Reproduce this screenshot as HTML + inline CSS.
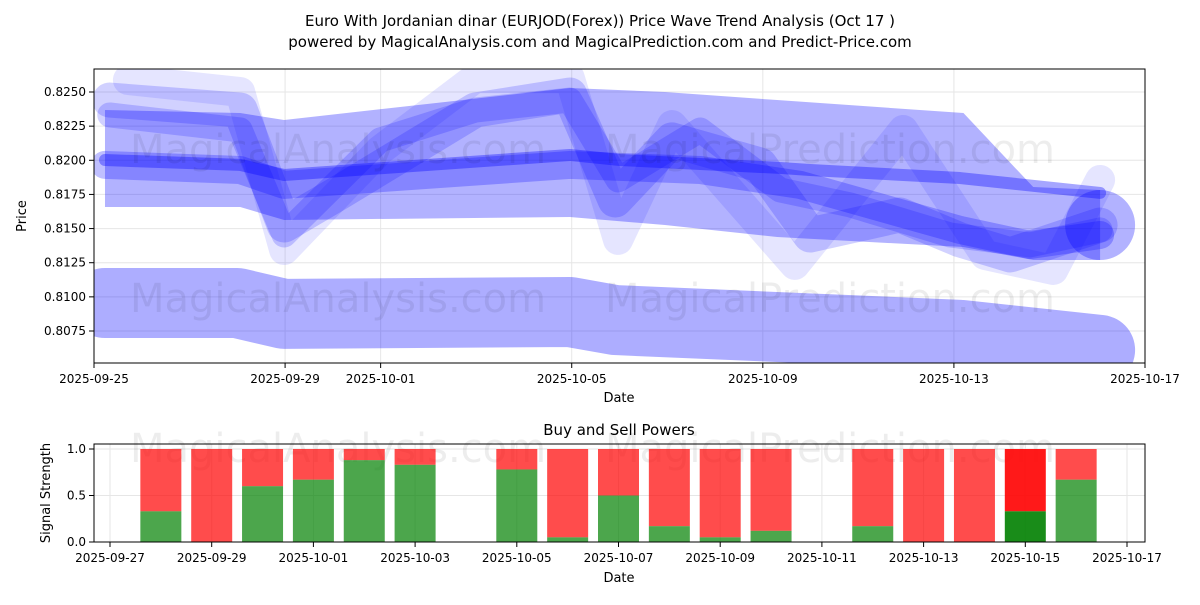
<!DOCTYPE html>
<html><head><meta charset="utf-8"><style>
body{margin:0;background:#fff;font-family:"Liberation Sans","DejaVu Sans",sans-serif}
</style></head><body>
<svg id="c" width="1200" height="600" xmlns="http://www.w3.org/2000/svg" font-family="DejaVu Sans, Liberation Sans, sans-serif">
<text x="600" y="26" text-anchor="middle" font-size="15">Euro With Jordanian dinar (EURJOD(Forex)) Price Wave Trend Analysis (Oct 17 )</text>
<text x="600" y="47" text-anchor="middle" font-size="15">powered by MagicalAnalysis.com and MagicalPrediction.com and Predict-Price.com</text>
<g id="topg"></g><g id="botg"></g>
</svg>
<script>
const NS="http://www.w3.org/2000/svg";
// ---- top chart data (days since 2025-09-25) ----
const bandDays=[0.23,3.06,3.98,9.96,11.95,14.3,18.2,19.66,21.06];
const bandUpper=[0.82368,0.82346,0.82295,0.82529,0.8250,0.82441,0.82346,0.81804,0.81782];
const bandLower=[0.81658,0.81658,0.81563,0.81585,0.81526,0.81438,0.81365,0.8127,0.8127];
const zigADays=[0.71,3.06,3.98,5.99,7.98,9.96,10.97,12.1,14.67,16.94,18.65,20.08,21.06];
const zigAVals=[0.82588,0.8250,0.81343,0.82075,0.82602,0.82602,0.81417,0.82258,0.81234,0.82222,0.81307,0.81197,0.81856];
const zigBDays=[0.33,3.06,3.98,5.05,7.98,9.96,10.91,12.1,13.94,14.99,16.87,18.13,19.18,21.06];
const zigBVals=[0.82441,0.82368,0.81526,0.81746,0.82368,0.82478,0.81709,0.82149,0.81966,0.81453,0.816,0.81417,0.81307,0.81526];
const zigCDays=[0.33,3.06,3.98,5.99,7.98,9.96,10.97,12.69,14.36,15.83,17.92,19.59,21.06];
const zigCVals=[0.82332,0.82222,0.81453,0.82149,0.82368,0.82441,0.81856,0.82222,0.81783,0.81673,0.81453,0.8138,0.8149];
const core2Days=[0.23,3.06,3.98,9.96,12.69,14.78,18.13,19.59,21.06];
const core2Vals=[0.81966,0.81929,0.8182,0.81966,0.81929,0.8182,0.8149,0.8138,0.81453];
const coreDays=[0.23,3.06,3.98,9.96,11.01,14.36,14.99,18.13,21.06];
const coreVals=[0.82002,0.81966,0.81892,0.82039,0.82002,0.81944,0.81929,0.8187,0.81761];
const lowDays=[0.23,3.0,3.98,9.96,10.91,18.13,21.06];
const lowVals=[0.80955,0.80955,0.80875,0.80889,0.8083,0.80722,0.80611];
const endVal=0.81526, endDay=21.06;
const topYTicks=[0.8075,0.8100,0.8125,0.8150,0.8175,0.8200,0.8225,0.8250];
const topXTicks=["2025-09-25","2025-09-29","2025-10-01","2025-10-05","2025-10-09","2025-10-13","2025-10-17"];
const topXTickDays=[0,4,6,10,14,18,22];
// ---- bottom chart data (days since 2025-09-27) ----
const barDays=[1,2,3,4,5,6,8,9,10,11,12,13,15,16,17,18,19];
const buyVals=[0.33,0,0.6,0.67,0.88,0.83,0.78,0.05,0.5,0.17,0.05,0.12,0.17,0,0,0.33,0.67];
const botXTicks=["2025-09-27","2025-09-29","2025-10-01","2025-10-03","2025-10-05","2025-10-07","2025-10-09","2025-10-11","2025-10-13","2025-10-15","2025-10-17"];
const botYTicks=[0,0.5,1.0];

function el(p,t,a,txt){const e=document.createElementNS(NS,t);for(const k in a)e.setAttribute(k,a[k]);if(txt!==undefined)e.textContent=txt;p.appendChild(e);return e;}
const topG=document.getElementById('topg'),botG=document.getElementById('botg');
const tx=d=>94+d*(1051/22), ty=v=>92+(0.8250-v)*13657;
const bx=d=>110+d*50.85, by=v=>542-v*93;

topYTicks.forEach(v=>{el(topG,'line',{x1:94,x2:1145,y1:ty(v),y2:ty(v),stroke:'#e6e6e6'});
 el(topG,'line',{x1:89,x2:94,y1:ty(v),y2:ty(v),stroke:'#000'});
 const t=el(topG,'text',{x:86,y:ty(v)+4,'text-anchor':'end','font-size':12},v.toFixed(4));
 });
topXTicks.forEach((s,i)=>{const x=tx(topXTickDays[i]);el(topG,'line',{x1:x,x2:x,y1:69,y2:363,stroke:'#e6e6e6'});
 el(topG,'line',{x1:x,x2:x,y1:363,y2:368,stroke:'#000'});
 const t=el(topG,'text',{x:x,y:383,'text-anchor':'middle','font-size':12},s);
 });
const clip=el(topG,'clipPath',{id:'cp'});el(clip,'rect',{x:94,y:69,width:1051,height:294});
const g=el(topG,'g',{'clip-path':'url(#cp)'});
function line(days,vals,w,op,name){const pts=days.map((d,i)=>tx(d)+','+ty(vals[i])).join(' ');
 const p=el(g,'polyline',{points:pts,fill:'none',stroke:'#0000ff','stroke-opacity':op,'stroke-width':w,'stroke-linecap':'round','stroke-linejoin':'round'});
 }
line(lowDays,lowVals,70,0.32,'lower-wave-band');
// wide band polygon
const bpts=bandDays.map((d,i)=>tx(d)+','+ty(bandUpper[i])).concat(bandDays.slice().reverse().map((d,i)=>tx(d)+','+ty(bandLower[bandDays.length-1-i]))).join(' ');
const bp=el(g,'polygon',{points:bpts,fill:'#0000ff','fill-opacity':0.3});

const ec=el(g,'circle',{cx:tx(endDay),cy:ty(endVal),r:35,fill:'#0000ff','fill-opacity':0.3});

line(zigADays,zigAVals,30,0.1,'wave-line-a');
line(zigBDays,zigBVals,35,0.18,'wave-line-b');
line(zigCDays,zigCVals,25,0.18,'wave-line-c');
line(core2Days,core2Vals,28,0.25,'core-wave-band');
line(coreDays,coreVals,12,0.35,'core-wave-line');
el(topG,'text',{x:130,y:312,'font-size':40,fill:'#000','fill-opacity':0.07},'MagicalAnalysis.com');
el(topG,'text',{x:605,y:312,'font-size':40,fill:'#000','fill-opacity':0.07},'MagicalPrediction.com');
el(topG,'text',{x:130,y:163,'font-size':40,fill:'#000','fill-opacity':0.07},'MagicalAnalysis.com');
el(topG,'text',{x:605,y:163,'font-size':40,fill:'#000','fill-opacity':0.07},'MagicalPrediction.com');
el(topG,'rect',{x:94,y:69,width:1051,height:294,fill:'none',stroke:'#000'});
el(topG,'text',{x:619,y:402,'text-anchor':'middle','font-size':13},'Date');
el(topG,'text',{x:26,y:216,'text-anchor':'middle','font-size':13,transform:'rotate(-90 26 216)'},'Price');

el(botG,'text',{x:619,y:435,'text-anchor':'middle','font-size':15},'Buy and Sell Powers');
botYTicks.forEach(v=>{el(botG,'line',{x1:94,x2:1145,y1:by(v),y2:by(v),stroke:'#e6e6e6'});
 el(botG,'line',{x1:89,x2:94,y1:by(v),y2:by(v),stroke:'#000'});
 el(botG,'text',{x:86,y:by(v)+4,'text-anchor':'end','font-size':12},v.toFixed(1));});
botXTicks.forEach((s,i)=>{const x=bx(i*2);el(botG,'line',{x1:x,x2:x,y1:444,y2:542,stroke:'#e6e6e6'});
 el(botG,'line',{x1:x,x2:x,y1:542,y2:547,stroke:'#000'});
 el(botG,'text',{x:x,y:562,'text-anchor':'middle','font-size':12},s);});
el(botG,'text',{x:130,y:462,'font-size':40,fill:'#000','fill-opacity':0.07},'MagicalAnalysis.com');
el(botG,'text',{x:605,y:462,'font-size':40,fill:'#000','fill-opacity':0.07},'MagicalPrediction.com');
barDays.forEach((d,i)=>{const x=bx(d)-20.5,b=buyVals[i];const dark=d===18;
 const r=el(botG,'rect',{x:x,y:by(1),width:41,height:by(b)-by(1),fill:'#ff0000','fill-opacity':dark?0.9:0.7});
 
 const gr=el(botG,'rect',{x:x,y:by(b),width:41,height:by(0)-by(b),fill:'#008000','fill-opacity':dark?0.9:0.7});
 });
el(botG,'rect',{x:94,y:444,width:1051,height:98,fill:'none',stroke:'#000'});
el(botG,'text',{x:619,y:582,'text-anchor':'middle','font-size':13},'Date');
el(botG,'text',{x:50,y:493,'text-anchor':'middle','font-size':13,transform:'rotate(-90 50 493)'},'Signal Strength');
</script>
</body></html>
